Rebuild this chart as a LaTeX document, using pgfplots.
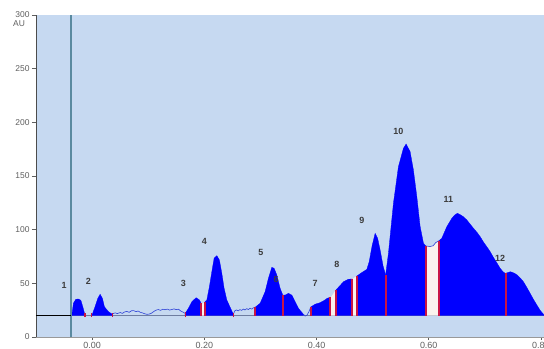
\documentclass[border=0pt]{standalone}
\usepackage{fontspec}
\setmainfont{Liberation Sans}
\usepackage{pgfplots}
\pgfplotsset{compat=1.18}
\definecolor{bgblue}{RGB}{198,217,241}
\definecolor{pkblue}{RGB}{0,0,255}
\definecolor{pkred}{RGB}{200,20,70}
\definecolor{gapw}{RGB}{250,242,238}
\definecolor{teal2}{RGB}{90,138,160}
\definecolor{tickgray}{RGB}{95,95,95}
\definecolor{lblgray}{RGB}{60,60,60}
\definecolor{basegray}{RGB}{110,125,160}
\definecolor{wavy}{RGB}{45,65,215}
\begin{document}
\begin{tikzpicture}[x=1bp,y=1bp]
\begin{axis}[
  at={(36bp,12bp)}, anchor=south west,
  scale only axis, width=508.3bp, height=322bp,
  xmin=-0.1, xmax=0.806, ymin=0, ymax=300,
  clip=false,
  axis background/.style={fill=bgblue},
  axis x line*=bottom, axis y line*=left,
  x axis line style={-, draw=gray!80, line width=0.6bp},
  y axis line style={-, draw=black!70, line width=0.9bp},
  xtick={0,0.2,0.4,0.6,0.8}, ytick={0,50,...,300},
  tick align=outside, major tick length=4bp,
  x tick style={/pgfplots/major tick length=3bp},
  tick style={draw=tickgray, line width=0.7bp},
  scaled x ticks=false,
  /pgf/number format/assume math mode=true,
  x tick label style={font=\fontsize{9}{10}\selectfont, text=tickgray, inner sep=1bp,
     /pgf/number format/.cd, fixed, fixed zerofill, precision=2, /tikz/.cd},
  y tick label style={font=\fontsize{8.5}{10}\selectfont, text=tickgray, xshift=1bp},
]
% baseline under the trace
\addplot[basegray, line width=0.6bp] coordinates {(-0.0375,20) (0.806,20)};
% unfilled noisy trace segments
\addplot[wavy, line width=0.6bp] coordinates {(0.036,21.5) (0.041,22.5) (0.045,21.8) (0.050,22.8) (0.054,22.0) (0.058,23.4) (0.062,23.8) (0.066,23.0) (0.070,24.4) (0.074,24.6) (0.078,23.6) (0.082,24.2) (0.086,23.0) (0.090,22.4) (0.094,21.6) (0.098,21.1) (0.102,21.4) (0.106,22.2) (0.110,23.8) (0.114,25.0) (0.118,25.6) (0.122,24.8) (0.126,25.9) (0.130,25.4) (0.134,26.0) (0.138,25.1) (0.142,25.6) (0.146,26.2) (0.150,25.5) (0.154,25.9) (0.158,24.2) (0.162,23.2) (0.166,22.0)};
\addplot[wavy, line width=0.6bp] coordinates {(0.2519,21.5) (0.2545,24.5) (0.2575,25.2) (0.2605,24.4) (0.2635,25.5) (0.2665,24.8) (0.2695,26.0) (0.2725,25.2) (0.2755,26.4) (0.2785,25.6) (0.2815,26.8) (0.2845,26.0) (0.2875,27.2) (0.2906,27.7)};
\addplot[wavy, line width=0.6bp] coordinates {(0.3767,21.1) (0.3797,19.5) (0.3832,20.5) (0.3868,24) (0.3898,28)};
% filled peaks
\addplot[draw=pkblue, fill=pkblue, line width=0.3bp] coordinates {(-0.0362,20) (-0.0333,31.4) (-0.0291,35.1) (-0.0244,35.4) (-0.0201,34.2) (-0.0166,28.2) (-0.0125,20)};
\addplot[draw=pkblue, fill=pkblue, line width=0.3bp] coordinates {(-0.0005,20) (0.0053,28.2) (0.0102,36) (0.0143,39.8) (0.0184,36) (0.0219,28.2) (0.0291,23.6) (0.0351,21.5) (0.036,20)};
\addplot[draw=pkblue, fill=pkblue, line width=0.3bp] coordinates {(0.1658,20) (0.1658,22) (0.1717,26.7) (0.1778,32.9) (0.1854,36.6) (0.1913,34.5) (0.1943,31.4) (0.1943,20)};
\addplot[draw=pkblue, fill=pkblue, line width=0.3bp] coordinates {(0.2014,20) (0.2014,33) (0.2045,34.5) (0.2091,46.9) (0.2134,60.8) (0.2175,73.3) (0.2223,75.8) (0.2269,71.7) (0.2312,59.3) (0.2353,45.4) (0.2401,34.5) (0.2460,27.7) (0.2519,21) (0.2519,20)};
\addplot[draw=pkblue, fill=pkblue, line width=0.3bp] coordinates {(0.2906,20) (0.2906,27.7) (0.2995,31.4) (0.3084,42.2) (0.3143,54.7) (0.3203,64.9) (0.3244,64) (0.3292,57.8) (0.3351,45.4) (0.3399,39) (0.3399,20)};
\addplot[draw=pkblue, fill=pkblue, line width=0.3bp] coordinates {(0.3399,20) (0.3399,39) (0.3440,39) (0.3499,40.7) (0.3560,39) (0.3619,32.9) (0.3678,26.7) (0.3767,21.1) (0.3767,20)};
\addplot[draw=pkblue, fill=pkblue, line width=0.3bp] coordinates {(0.3898,20) (0.3898,28) (0.3975,30.5) (0.4064,32) (0.4135,34) (0.4189,36) (0.4242,37) (0.4242,20)};
\addplot[draw=pkblue, fill=pkblue, line width=0.3bp] coordinates {(0.4349,20) (0.4349,44) (0.4421,48) (0.4480,51.5) (0.4569,53.8) (0.4635,54) (0.4635,20)};
\addplot[draw=pkblue, fill=pkblue, line width=0.3bp] coordinates {(0.4718,20) (0.4718,56.8) (0.4807,60) (0.4897,63) (0.4938,70) (0.4991,85) (0.5045,96.6) (0.5089,92) (0.5134,81) (0.5187,66) (0.5232,57.8) (0.5232,20)};
\addplot[draw=pkblue, fill=pkblue, line width=0.3bp] coordinates {(0.5232,20) (0.5232,57.8) (0.5282,78) (0.5371,124.6) (0.5460,158.7) (0.5549,175.8) (0.5597,179.8) (0.5668,172.7) (0.5727,155.6) (0.5788,130.7) (0.5847,102.8) (0.5906,87.3) (0.5948,84.8) (0.5948,20)};
\addplot[draw=pkblue, fill=pkblue, line width=0.3bp] coordinates {(0.6185,20) (0.6185,89.7) (0.6233,92) (0.6323,102.8) (0.6412,110.6) (0.6470,114) (0.6512,115.2) (0.6560,114) (0.6619,112) (0.6679,109) (0.6725,106) (0.6797,101.3) (0.6860,97.5) (0.6916,93.5) (0.6975,88.5) (0.7035,84.1) (0.7095,79.5) (0.7153,74.2) (0.7215,69) (0.7273,64) (0.7320,61) (0.7362,59.3) (0.7380,59.5) (0.7380,20)};
\addplot[draw=pkblue, fill=pkblue, line width=0.3bp] coordinates {(0.7380,20) (0.7380,59.5) (0.7456,60.8) (0.7520,59.6) (0.7576,57.8) (0.7630,55) (0.7688,51.5) (0.7750,46) (0.7807,40.7) (0.7867,35) (0.7927,29.8) (0.7990,24.5) (0.8057,20.5) (0.8057,20)};
% light gaps between integration markers
\addplot[draw=none, fill=gapw] coordinates {(0.1955,20) (0.1955,31) (0.1980,31.5) (0.2002,32.5) (0.2002,20)};
\addplot[draw=none, fill=gapw] coordinates {(0.4260,20) (0.4260,37.5) (0.4295,40) (0.4331,43) (0.4331,20)};
\addplot[draw=none, fill=gapw] coordinates {(0.4650,20) (0.4650,54.5) (0.4680,55.5) (0.4706,56.5) (0.4706,20)};
\addplot[draw=none, fill=gapw] coordinates {(0.5966,20) (0.5966,84.8) (0.6025,84.3) (0.6078,85) (0.6126,88) (0.6168,89) (0.6168,20)};
\addplot[wavy, line width=0.6bp] coordinates {(0.5948,84.8) (0.6025,84.3) (0.6078,85) (0.6126,88) (0.6185,89.7)};
% red integration markers
\addplot[pkred, line width=1.2bp] coordinates {(-0.0362,18.5) (-0.0362,22)};
\addplot[pkred, line width=1.2bp] coordinates {(-0.0125,18.5) (-0.0125,22)};
\addplot[pkred, line width=1.2bp] coordinates {(-0.0005,18.5) (-0.0005,22)};
\addplot[pkred, line width=1.2bp] coordinates {(0.036,18.5) (0.036,22)};
\addplot[pkred, line width=1.2bp] coordinates {(0.1658,18.5) (0.1658,23)};
\addplot[pkred, line width=1.2bp] coordinates {(0.2519,18.5) (0.2519,22)};
\addplot[pkred, line width=1.5bp] coordinates {(0.1943,20) (0.1943,31.4)};
\addplot[pkred, line width=1.5bp] coordinates {(0.2014,20) (0.2014,33)};
\addplot[pkred, line width=1.5bp] coordinates {(0.2906,20) (0.2906,27.7)};
\addplot[pkred, line width=1.5bp] coordinates {(0.3399,20) (0.3399,39)};
\addplot[pkred, line width=1.5bp] coordinates {(0.3898,20) (0.3898,28)};
\addplot[pkred, line width=1.5bp] coordinates {(0.4242,20) (0.4242,37)};
\addplot[pkred, line width=1.5bp] coordinates {(0.4349,20) (0.4349,44)};
\addplot[pkred, line width=1.5bp] coordinates {(0.4635,20) (0.4635,54)};
\addplot[pkred, line width=1.5bp] coordinates {(0.4718,20) (0.4718,56.8)};
\addplot[pkred, line width=1.8bp] coordinates {(0.5232,20) (0.5232,57.8)};
\addplot[pkred, line width=2bp] coordinates {(0.5948,20) (0.5948,84.8)};
\addplot[pkred, line width=2bp] coordinates {(0.6185,20) (0.6185,89.7)};
\addplot[pkred, line width=2.5bp] coordinates {(0.7380,20) (0.7380,59.5)};
% injection line and initial baseline
\addplot[teal2, line width=1.2bp] coordinates {(-0.0375,0) (-0.0375,300)};
\addplot[black, line width=1.1bp] coordinates {(-0.1,20) (-0.0375,20)};
% peak labels
\begin{scope}[every node/.style={font=\bfseries\fontsize{9}{10}\selectfont, text=lblgray}]
\node at (axis cs:-0.0499,48.4) {1};
\node at (axis cs:-0.0066,51.5) {2};
\node at (axis cs:0.1628,50) {3};
\node at (axis cs:0.2002,88.8) {4};
\node at (axis cs:0.3007,78.9) {5};
\node at (axis cs:0.3280,53.8) {6};
\node at (axis cs:0.3975,50) {7};
\node at (axis cs:0.4362,67.7) {8};
\node at (axis cs:0.4807,108.4) {9};
\node at (axis cs:0.5460,191.9) {10};
\node at (axis cs:0.6351,128.6) {11};
\node at (axis cs:0.7273,73.3) {12};
\end{scope}
\node[font=\fontsize{8.5}{10}\selectfont, text=tickgray] at (rel axis cs:0,1) [xshift=-17bp, yshift=-9bp] {AU};
\end{axis}
\pgfresetboundingbox
\path[use as bounding box] (0,0) rectangle (544bp,349bp);
\end{tikzpicture}
\end{document}
